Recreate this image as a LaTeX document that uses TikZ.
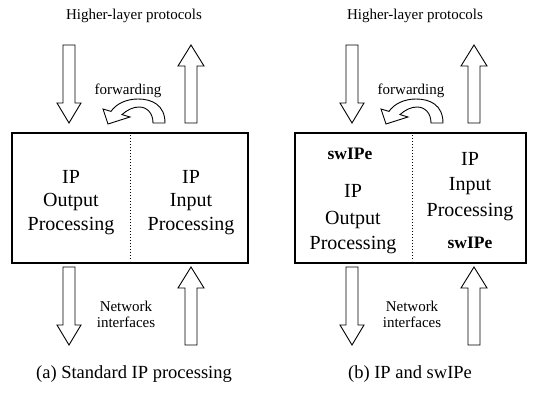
\documentclass[tikz,border=0pt]{standalone}
\usepackage{fontspec}
\setmainfont{Liberation Serif}
\begin{document}
\begin{tikzpicture}[x=1pt,y=-1pt,
  lbl/.style={font=\fontsize{15}{17}\selectfont, inner sep=0pt, anchor=base},
  captxt/.style={font=\fontsize{18.5}{21}\selectfont, inner sep=0pt, anchor=base},
  btxt/.style={font=\fontsize{20}{23}\selectfont, inner sep=0pt, anchor=base},
  swtxt/.style={font=\fontsize{17.5}{20}\selectfont\bfseries, inner sep=0pt, anchor=base},
  procbox/.style={draw, line width=2.2pt},
  divider/.style={dotted, line width=1pt},
  blk/.style={draw, line width=0.9pt, fill=white, line join=miter},
  downblk/.pic={\draw[blk] (-6,0) -- (6,0) -- (6,58) -- (12,58) -- (0,78) -- (-12,58) -- (-6,58) -- cycle;},
  upblk/.pic={\draw[blk] (-6,78) -- (6,78) -- (6,21) -- (13,21) -- (0,0) -- (-13,21) -- (-6,21) -- cycle;},
  fwdblk/.pic={\draw[blk] (165,123) .. controls (165,105) and (152,99) .. (138,99)
      .. controls (126,99) and (116,104) .. (111,111.4) -- (103,109) -- (108,124) -- (130,117)
      -- (122,114.6) .. controls (127,110) and (133,107) .. (139,107)
      .. controls (147,107) and (153,113) .. (153,123) -- cycle;}
]
\useasboundingbox (0,0) rectangle (538,396);

% ---------- panel (a) ----------
\node[lbl] (ahl) at (134,19.5) {Higher-layer protocols};
\pic at (69,45) {downblk};
\pic at (191,45) {upblk};
\node[lbl] (afw) at (128,94.5) {forwarding};
\pic at (0,0) {fwdblk};
\draw[procbox] (12,133) rectangle (248,263);
\draw[divider] (130,135) -- (130,261);
\node[btxt] (aoip) at (71,183.5) {IP};
\node[btxt] (aoout) at (71,206.5) {Output};
\node[btxt] (aoproc) at (71,230.5) {Processing};
\node[btxt] (aiip) at (191,183.5) {IP};
\node[btxt] (aiin) at (191,206.5) {Input};
\node[btxt] (aiproc) at (191,230.5) {Processing};
\pic at (69,267) {downblk};
\pic at (191,267) {upblk};
\node[lbl] (anet) at (126,311) {Network};
\node[lbl] (aif) at (126,327.5) {interfaces};
\node[captxt] (acap) at (134,378.5) {(a) Standard IP processing};

% ---------- panel (b) ----------
\node[lbl] (bhl) at (415,19.5) {Higher-layer protocols};
\pic at (352,45) {downblk};
\pic at (474,45) {upblk};
\node[lbl] (bfw) at (411,94.5) {forwarding};
\pic at (278,0) {fwdblk};
\draw[procbox] (295,133) rectangle (526,263);
\draw[divider] (412,135) -- (412,261);
\node[swtxt] (bsw1) at (350,159) {swIPe};
\node[btxt] (boip) at (353,197) {IP};
\node[btxt] (boout) at (353,224) {Output};
\node[btxt] (boproc) at (353,249) {Processing};
\node[btxt] (biip) at (470,165) {IP};
\node[btxt] (biin) at (470,190) {Input};
\node[btxt] (biproc) at (470,216) {Processing};
\node[swtxt] (bsw2) at (470,248) {swIPe};
\pic at (352,267) {downblk};
\pic at (474,267) {upblk};
\node[lbl] (bnet) at (412,311) {Network};
\node[lbl] (bif) at (412,327.5) {interfaces};
\node[captxt] (bcap) at (410,378.5) {(b) IP and swIPe};
\end{tikzpicture}
\end{document}
